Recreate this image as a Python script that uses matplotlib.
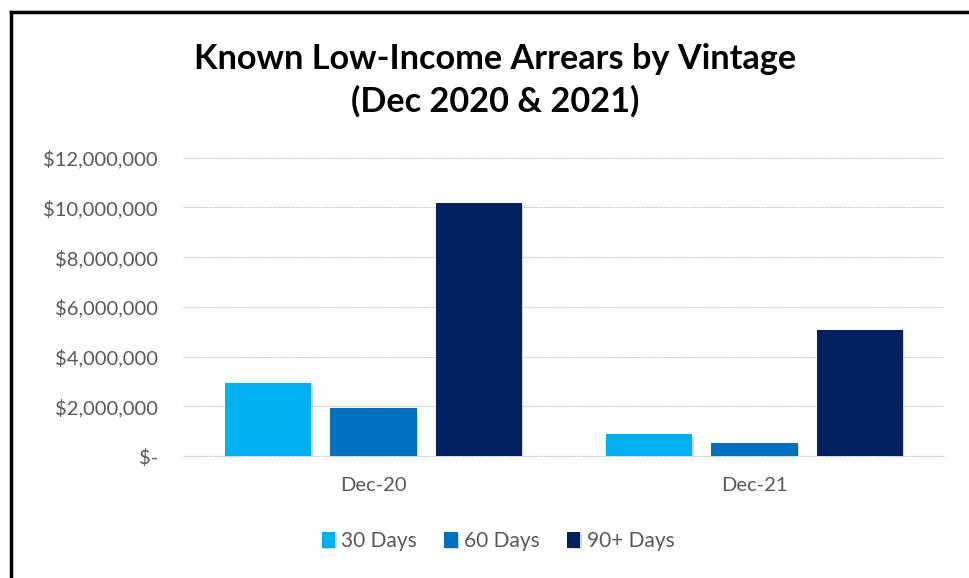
import numpy as np
import matplotlib.pyplot as plt
import matplotlib.patheffects as pe
from matplotlib.lines import Line2D
from matplotlib.ticker import FuncFormatter

# Datos
CATEGORIAS = ["Dec-20", "Dec-21"]
SERIES = ["30 Days", "60 Days", "90+ Days"]
DIAS_30 = [2930000, 890000]
DIAS_60 = [1940000, 520000]
DIAS_90 = [10170000, 5090000]
COLORES = ["#00B0F0", "#0070C0", "#002060"]

ANCHO, ALTO = 969, 578
DPI = 100
FUENTE = ["Lato", "DejaVu Sans"]

fig = plt.figure(figsize=(ANCHO / DPI, ALTO / DPI), dpi=DPI)
ax = fig.add_axes([183 / ANCHO, (ALTO - 456) / ALTO,
                   (945 - 183) / ANCHO, (456 - 157.8) / ALTO])

x = np.arange(len(CATEGORIAS))
paso = 0.276
ancho = 0.226
valores = [DIAS_30, DIAS_60, DIAS_90]
sombra = [pe.SimplePatchShadow(offset=(1.2, -1.2), shadow_rgbFace="#888888", alpha=0.35), pe.Normal()]
for k, (serie, vals, color) in enumerate(zip(SERIES, valores, COLORES)):
    barras = ax.bar(x + (k - 1) * paso, vals, width=ancho, color=color, label=serie, zorder=3)
    for b in barras:
        b.set_path_effects(sombra)

ax.set_xlim(-0.5, 1.5)
ax.set_ylim(0, 12000000)
ax.set_yticks(np.arange(0, 12000001, 2000000))


def formato(v, pos):
    if v == 0:
        return "$-"
    return f"${v:,.0f}"


ax.yaxis.set_major_formatter(FuncFormatter(formato))
ax.set_xticks(x)
ax.set_xticklabels(CATEGORIAS)
ax.grid(axis="y", color="#C8C8C8", linestyle=(0, (1.5, 0.8)), linewidth=0.8, zorder=0)
for lado in ax.spines.values():
    lado.set_visible(False)
ax.axhline(0, color="#C8C8C8", linestyle=(0, (1.5, 0.8)), linewidth=0.8, zorder=1, clip_on=False)
ax.tick_params(axis="both", length=0, labelcolor="#595959")
ax.tick_params(axis="y", pad=18)
ax.tick_params(axis="x", pad=15)
for t in ax.get_xticklabels() + ax.get_yticklabels():
    t.set_fontfamily(FUENTE)
    t.set_fontsize(14.5)

fig.text(495 / ANCHO, 1 - 80.5 / ALTO, "Known Low-Income Arrears by Vintage\n(Dec 2020 & 2021)",
         ha="center", va="center", fontsize=24.7, fontweight="bold",
         family=FUENTE, linespacing=1.36, color="black")

leyenda = fig.legend(loc="center", bbox_to_anchor=(498 / ANCHO, 1 - 541 / ALTO), ncol=3,
                     frameon=False, prop={"family": FUENTE, "size": 15},
                     handlelength=0.65, handleheight=0.8, handletextpad=0.3, columnspacing=1.3)
for t in leyenda.get_texts():
    t.set_color("#595959")

# Marco negro (solo izquierda y arriba visibles)
fig.add_artist(Line2D([11 / ANCHO, 11 / ANCHO], [0, 1 - 12 / ALTO],
                      transform=fig.transFigure, color="black", linewidth=2.5))
fig.add_artist(Line2D([11 / ANCHO, 1], [1 - 12 / ALTO, 1 - 12 / ALTO],
                      transform=fig.transFigure, color="black", linewidth=2.5))

fig.savefig("out.png", dpi=DPI)
